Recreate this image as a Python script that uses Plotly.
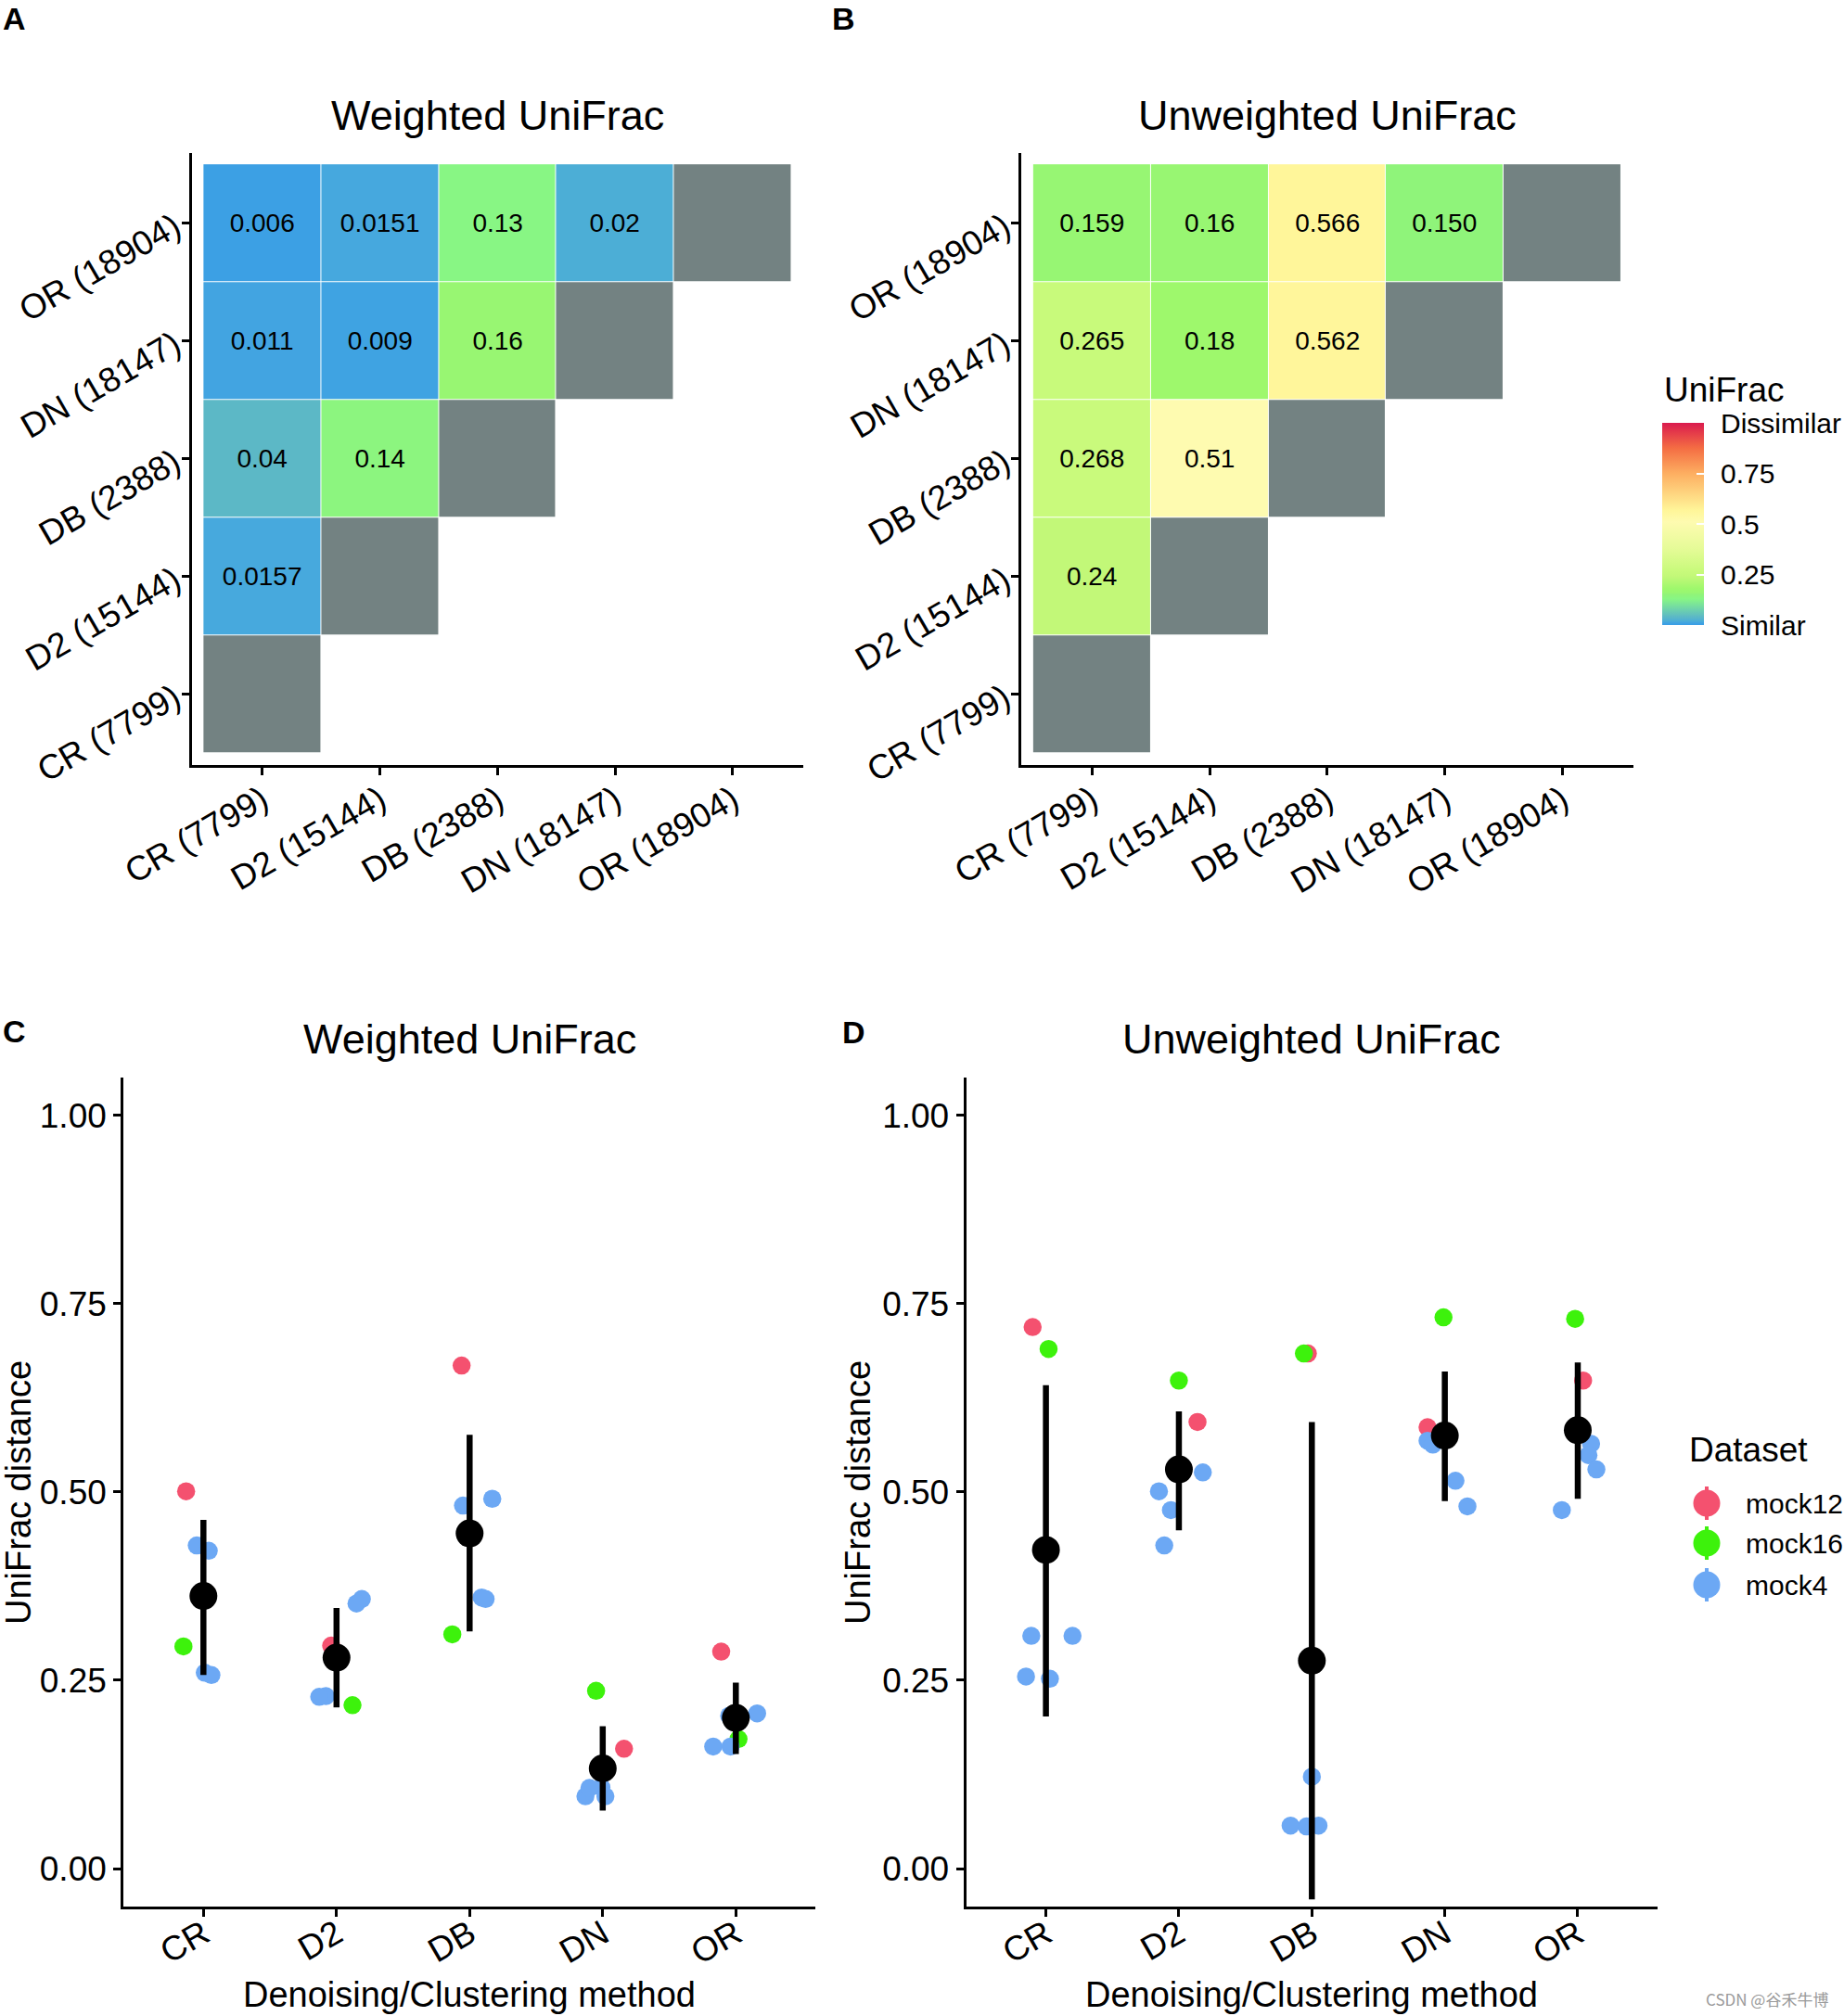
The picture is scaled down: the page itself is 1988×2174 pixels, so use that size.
import plotly.graph_objects as go

W, H = 1988, 2174
FONT = "Liberation Sans, Arial, Helvetica, sans-serif"

# ---------------- data ----------------
methods_full = ["CR (7799)", "D2 (15144)", "DB (2388)", "DN (18147)", "OR (18904)"]
methods = ["CR", "D2", "DB", "DN", "OR"]

# pairwise distances between methods (column method, row method)
pair_col = ["CR", "CR", "CR", "CR", "D2", "D2", "D2", "DB", "DB", "DN"]
pair_row = ["D2", "DB", "DN", "OR", "DB", "DN", "OR", "DN", "OR", "OR"]
weighted_pair_labels = ["0.0157", "0.04", "0.011", "0.006", "0.14", "0.009", "0.0151", "0.16", "0.13", "0.02"]
unweighted_pair_labels = ["0.24", "0.268", "0.265", "0.159", "0.51", "0.18", "0.16", "0.562", "0.566", "0.150"]

colorbar_ticks = [0, 0.25, 0.5, 0.75, 1]
colorbar_labels = ["Similar", "0.25", "0.5", "0.75", "Dissimilar"]

datasets = ["mock12", "mock16", "mock4"]
dataset_colors = ["#F4516F", "#3DF20C", "#6CA8F4"]

# Weighted UniFrac distances per sample (values, and jitter offsets)
w_mock12_val = [0.501, 0.296, 0.668, 0.159, 0.288]
w_mock12_off = [-0.13, -0.04, -0.06, 0.16, -0.11]
w_mock16_val = [0.295, 0.217, 0.311, 0.236, 0.172]
w_mock16_off = [-0.15, 0.12, -0.13, -0.05, 0.02]
w_mock4_val = [[0.429, 0.422, 0.260, 0.257],
               [0.358, 0.352, 0.229, 0.228],
               [0.482, 0.491, 0.360, 0.358],
               [0.108, 0.096, 0.107, 0.096],
               [0.206, 0.203, 0.162, 0.162]]
w_mock4_off = [[-0.05, 0.04, 0.01, 0.06],
               [0.19, 0.15, -0.08, -0.13],
               [-0.05, 0.17, 0.09, 0.12],
               [-0.01, -0.13, -0.10, 0.02],
               [0.16, -0.05, -0.17, -0.04]]
w_mean = [0.362, 0.280, 0.445, 0.133, 0.200]
w_low = [0.257, 0.214, 0.315, 0.077, 0.152]
w_high = [0.463, 0.346, 0.576, 0.189, 0.247]

# Unweighted UniFrac distances per sample
u_mock12_val = [0.719, 0.593, 0.684, 0.586, 0.648]
u_mock12_off = [-0.10, 0.14, -0.03, -0.13, 0.04]
u_mock16_val = [0.690, 0.648, 0.684, 0.732, 0.730]
u_mock16_off = [0.02, 0.00, -0.06, -0.01, -0.02]
u_mock4_val = [[0.309, 0.309, 0.255, 0.252],
               [0.526, 0.501, 0.476, 0.429],
               [0.122, 0.057, 0.056, 0.057],
               [0.568, 0.563, 0.515, 0.481],
               [0.564, 0.549, 0.530, 0.476]]
u_mock4_off = [[-0.11, 0.20, -0.15, 0.03],
               [0.18, -0.15, -0.06, -0.11],
               [0.00, -0.16, -0.04, 0.05],
               [-0.13, -0.09, 0.08, 0.17],
               [0.10, 0.08, 0.14, -0.12]]
u_mean = [0.423, 0.530, 0.276, 0.575, 0.582]
u_low = [0.202, 0.449, -0.041, 0.488, 0.491]
u_high = [0.642, 0.607, 0.593, 0.660, 0.672]

y_ticks = [0, 0.25, 0.5, 0.75, 1.0]
y_tick_labels = ["0.00", "0.25", "0.50", "0.75", "1.00"]

# ---------------- helpers ----------------
def px(x, y):
    return x / W, 1 - y / H

colorscale = [
    [0.000, "#3A9EE6"], [0.006, "#3CA0E4"], [0.015, "#46A8DE"], [0.020, "#4CAED6"],
    [0.040, "#5CB8C6"], [0.085, "#72D8A6"], [0.130, "#88F684"], [0.150, "#8FF47A"],
    [0.160, "#98F672"], [0.180, "#9EF86C"], [0.240, "#C2F878"], [0.270, "#C9FA7C"],
    [0.380, "#E6FB98"], [0.510, "#FEFBB0"], [0.565, "#FFF69A"], [0.650, "#FED580"],
    [0.750, "#FDAE61"], [0.875, "#F46D43"], [1.000, "#DA1B4E"],
]

fig = go.Figure()

def heat_matrices(labels):
    n = len(methods)
    z = [[None] * n for _ in range(n)]
    t = [[""] * n for _ in range(n)]
    for c, r, lab in zip(pair_col, pair_row, labels):
        i, j = methods.index(c), methods.index(r)
        z[j][i] = float(lab)
        t[j][i] = lab
    diag = [[1 if i == j else None for i in range(n)] for j in range(n)]
    return z, t, diag

for k, labels in enumerate([weighted_pair_labels, unweighted_pair_labels]):
    xa = "x" if k == 0 else "x2"
    ya = "y" if k == 0 else "y2"
    z, t, diag = heat_matrices(labels)
    idx = list(range(len(methods)))
    fig.add_trace(go.Heatmap(
        x=idx, y=idx, z=diag, xaxis=xa, yaxis=ya,
        colorscale=[[0, "#738282"], [1, "#738282"]], showscale=False,
        xgap=1, ygap=1, hoverinfo="skip"))
    fig.add_trace(go.Heatmap(
        x=idx, y=idx, z=z, text=t, texttemplate="%{text}",
        textfont=dict(size=28, color="black", family=FONT),
        coloraxis="coloraxis", xgap=1, ygap=1, xaxis=xa, yaxis=ya))

def add_scatter(xa, ya, m12v, m12o, m16v, m16o, m4v, m4o, mean, low, high):
    fig.add_trace(go.Scatter(
        x=[i + 1 + o for i, o in enumerate(m12o)], y=m12v, mode="markers",
        marker=dict(size=19.5, color=dataset_colors[0]), xaxis=xa, yaxis=ya, showlegend=False))
    fig.add_trace(go.Scatter(
        x=[i + 1 + o for i, o in enumerate(m16o)], y=m16v, mode="markers",
        marker=dict(size=19.5, color=dataset_colors[1]), xaxis=xa, yaxis=ya, showlegend=False))
    xs, ys = [], []
    for i in range(len(methods)):
        for v, o in zip(m4v[i], m4o[i]):
            xs.append(i + 1 + o)
            ys.append(v)
    fig.add_trace(go.Scatter(
        x=xs, y=ys, mode="markers",
        marker=dict(size=19.5, color=dataset_colors[2]), xaxis=xa, yaxis=ya, showlegend=False))
    fig.add_trace(go.Scatter(
        x=[i + 1 for i in range(len(methods))], y=mean, mode="markers",
        marker=dict(size=30, color="black"),
        error_y=dict(type="data", symmetric=False,
                     array=[h - m for h, m in zip(high, mean)],
                     arrayminus=[m - l for m, l in zip(mean, low)],
                     thickness=6.5, width=0, color="black"),
        xaxis=xa, yaxis=ya, showlegend=False))

add_scatter("x3", "y3", w_mock12_val, w_mock12_off, w_mock16_val, w_mock16_off,
            w_mock4_val, w_mock4_off, w_mean, w_low, w_high)
add_scatter("x4", "y4", u_mock12_val, u_mock12_off, u_mock16_val, u_mock16_off,
            u_mock4_val, u_mock4_off, u_mean, u_low, u_high)

axis_common = dict(showline=True, linecolor="black", linewidth=3, ticks="outside",
                   ticklen=8, tickwidth=2.5, tickcolor="black", showgrid=False,
                   zeroline=False, tickfont=dict(size=37, color="black", family=FONT),
                   fixedrange=True, automargin=False)

def dom_x(a, b):
    return [a / W, b / W]

def dom_y(top, bottom):
    return [1 - bottom / H, 1 - top / H]

heat_idx = list(range(len(methods)))
CB_TOP, CB_BOTTOM = 456, 674
layout = dict(
    width=W, height=H, margin=dict(l=0, r=0, t=0, b=0, autoexpand=False),
    paper_bgcolor="white", plot_bgcolor="white",
    font=dict(family=FONT, color="black"),
    showlegend=False,
    xaxis=dict(domain=dom_x(206.7, 866), anchor="y", range=[-0.6, 4.6],
               tickvals=heat_idx, ticktext=methods_full, tickangle=-30,
               ticklabelstandoff=-9, **axis_common),
    yaxis=dict(domain=dom_y(164.5, 824.6), anchor="x", range=[-0.6, 4.6],
               tickvals=heat_idx, ticktext=methods_full, tickangle=-30, **axis_common),
    xaxis2=dict(domain=dom_x(1101.2, 1760.5), anchor="y2", range=[-0.6, 4.6],
                tickvals=heat_idx, ticktext=methods_full, tickangle=-30,
                ticklabelstandoff=-9, **axis_common),
    yaxis2=dict(domain=dom_y(164.5, 824.6), anchor="x2", range=[-0.6, 4.6],
                tickvals=heat_idx, ticktext=methods_full, tickangle=-30, **axis_common),
    xaxis3=dict(domain=dom_x(133.2, 879.4), anchor="y3", range=[0.4, 5.6],
                tickvals=[1, 2, 3, 4, 5], ticktext=methods, tickangle=-30,
                ticklabelstandoff=-17, **axis_common),
    yaxis3=dict(domain=dom_y(1162.3, 2055.6), anchor="x3", range=[-0.05, 1.05],
                tickvals=y_ticks, ticktext=y_tick_labels, **axis_common),
    xaxis4=dict(domain=dom_x(1041.6, 1787), anchor="y4", range=[0.4, 5.6],
                tickvals=[1, 2, 3, 4, 5], ticktext=methods, tickangle=-30,
                ticklabelstandoff=-17, **axis_common),
    yaxis4=dict(domain=dom_y(1162.3, 2055.6), anchor="x4", range=[-0.05, 1.05],
                tickvals=y_ticks, ticktext=y_tick_labels, **axis_common),
    coloraxis=dict(
        cmin=0, cmax=1, colorscale=colorscale,
        colorbar=dict(
            x=1792 / W, xanchor="left", xpad=0,
            y=1 - (CB_TOP + CB_BOTTOM) / 2 / H, yanchor="middle", ypad=0,
            len=CB_BOTTOM - CB_TOP, lenmode="pixels", thickness=45, thicknessmode="pixels",
            outlinewidth=0, tickvals=colorbar_ticks, ticktext=[""] * len(colorbar_ticks),
            ticks="inside", ticklen=8, tickwidth=2, tickcolor="white",
            showticklabels=False, title=dict(text=""),
        ),
    ),
)
fig.update_layout(**layout)

annotations = []

def ann(text, x, y, size, bold=False, angle=0, color="black", family=FONT, xanchor="center"):
    ax, ay = px(x, y)
    annotations.append(dict(
        text=f"<b>{text}</b>" if bold else text, x=ax, y=ay, xref="paper", yref="paper",
        showarrow=False, xanchor=xanchor, yanchor="middle", textangle=angle,
        font=dict(size=size, color=color, family=family)))

ann("Weighted UniFrac", 536.5, 124.4, 45)
ann("Unweighted UniFrac", 1431, 124.4, 45)
ann("Weighted UniFrac", 506.3, 1120.5, 45)
ann("Unweighted UniFrac", 1414.3, 1120.5, 45)
ann("A", 15, 20, 34, bold=True)
ann("B", 909, 20, 34, bold=True)
ann("C", 15, 1112, 34, bold=True)
ann("D", 920, 1113, 34, bold=True)
ann("Denoising/Clustering method", 506.3, 2151, 38)
ann("Denoising/Clustering method", 1414.3, 2151, 38)
ann("UniFrac distance", 20, 1610, 38, angle=-90)
ann("UniFrac distance", 925, 1610, 38, angle=-90)

# colour-bar title and labels
ann("UniFrac", 1792, 420, 37, xanchor="left")
for v, lab in zip(colorbar_ticks, colorbar_labels):
    ann(lab, 1853, CB_BOTTOM - v * (CB_BOTTOM - CB_TOP), 30, xanchor="left")

# legend for points
ann("Dataset", 1819, 1563, 37, xanchor="left")
legend_y = [1621, 1664, 1709]
for name, ly in zip(datasets, legend_y):
    ann(name, 1880, ly, 30, xanchor="left")
ann("CSDN @谷禾牛博", 1905, 2155, 17, color="#9a9a9a",
    family="Noto Sans CJK SC, Liberation Sans, sans-serif")

shapes = []
for col, ly in zip(dataset_colors, legend_y):
    x0, y0 = px(1840, ly - 18)
    x1, y1 = px(1840, ly + 18)
    shapes.append(dict(type="line", xref="paper", yref="paper", x0=x0, y0=y0, x1=x1, y1=y1,
                       line=dict(color=col, width=4)))
    cx0, cy0 = px(1840 - 14.5, ly - 14.5)
    cx1, cy1 = px(1840 + 14.5, ly + 14.5)
    shapes.append(dict(type="circle", xref="paper", yref="paper", x0=cx0, y0=cy1, x1=cx1, y1=cy0,
                       fillcolor=col, line=dict(width=0)))

fig.update_layout(annotations=annotations, shapes=shapes)

fig.write_html("out.html")
